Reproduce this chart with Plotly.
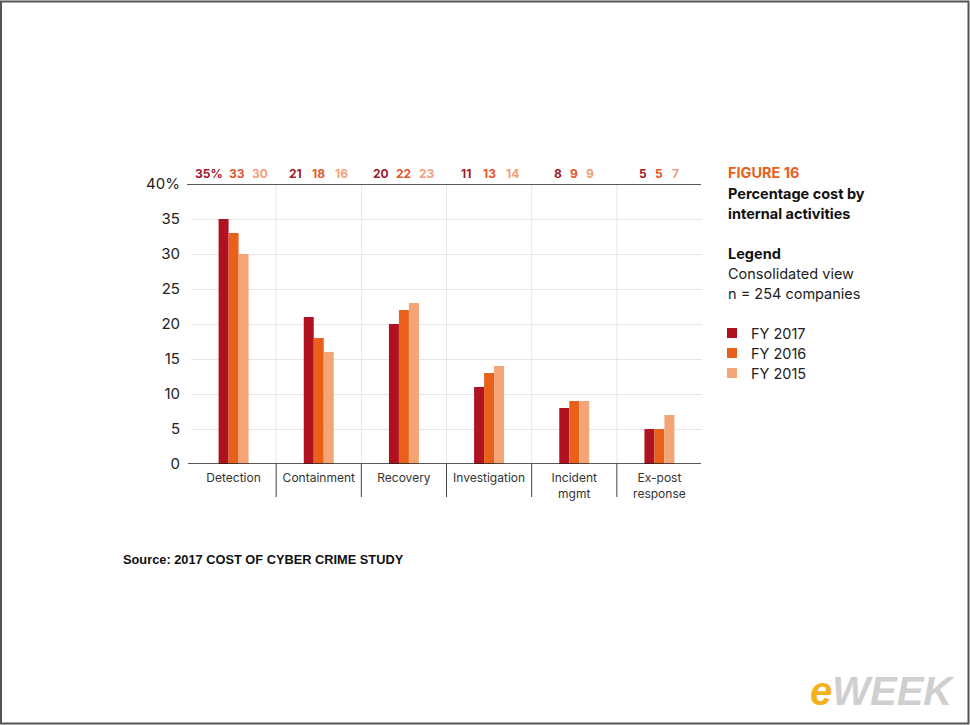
import plotly.graph_objects as go

# ---------------- data ----------------
categories = ["Detection", "Containment", "Recovery", "Investigation", "Incident<br>mgmt", "Ex-post<br>response"]
series_names = ["FY 2017", "FY 2016", "FY 2015"]
fy2017 = [35, 21, 20, 11, 8, 5]
fy2016 = [33, 18, 22, 13, 9, 5]
fy2015 = [30, 16, 23, 14, 9, 7]
y_tickvals = [0, 5, 10, 15, 20, 25, 30, 35, 40]
y_ticktext = ["0", "5", "10", "15", "20", "25", "30", "35", "40%"]

series_values = [fy2017, fy2016, fy2015]

# ---------------- style ----------------
bar_colors = ["#B0121F", "#E8601C", "#F4A576"]
label_colors = ["#A01A2C", "#E2572B", "#F2A07A"]
W, H = 970, 725
L, R, T, B = 191, 268, 184, 261
plot_w = W - L - R
plot_h = H - T - B
FONT = "Inter, Liberation Sans, Arial, sans-serif"

fig = go.Figure()
for name, vals, col in zip(series_names, series_values, bar_colors):
    fig.add_trace(go.Bar(x=categories, y=vals, name=name, marker=dict(color=col, line=dict(width=0)),
                         showlegend=False, hoverinfo="x+y"))

def px_x(px):
    return (px - L) / plot_w

def px_y(py):
    return (H - B - py) / plot_h

shapes = []
# light vertical gridlines and dark dividers below the axis
for i in range(1, len(categories)):
    shapes.append(dict(type="line", xref="x", yref="y", x0=i - 0.5, x1=i - 0.5, y0=0, y1=40,
                       line=dict(color="#E6E6E6", width=1), layer="below"))
    shapes.append(dict(type="line", xref="x", yref="paper", x0=i - 0.5, x1=i - 0.5, y0=0, y1=px_y(497),
                       line=dict(color="#444444", width=1)))
# top (40%) line and baseline
shapes.append(dict(type="line", xref="paper", yref="y", x0=px_x(187), x1=px_x(701), y0=40, y1=40,
                   line=dict(color="#222222", width=1.3)))
shapes.append(dict(type="line", xref="paper", yref="y", x0=px_x(188), x1=px_x(701), y0=0, y1=0,
                   line=dict(color="#222222", width=1.3)))
# image border
shapes.append(dict(type="rect", xref="paper", yref="paper", x0=px_x(1), x1=px_x(968.5), y0=px_y(1.5), y1=px_y(723.5),
                   line=dict(color="#555555", width=2)))

annotations = []
# value labels above the chart
def text_w(s):
    return sum(9 if c == "%" else 7 for c in s)

gap = 9
for ci, cat in enumerate(categories):
    texts = []
    for si, vals in enumerate(series_values):
        t = f"{vals[ci]}%" if ci == 0 and si == 0 else f"{vals[ci]}"
        texts.append(t)
    wm = text_w(texts[1])
    offsets = [-(wm / 2 + gap + text_w(texts[0]) / 2), 0, (wm / 2 + gap + text_w(texts[2]) / 2)]
    if ci == 0:
        offsets = [o + 3 for o in offsets]
    for si in range(3):
        annotations.append(dict(x=cat, y=px_y(174), xref="x", yref="paper", text=f"<b>{texts[si]}</b>",
                                showarrow=False, xshift=offsets[si], xanchor="center", yanchor="middle",
                                font=dict(family=FONT, size=12, color=label_colors[si])))

# right panel texts
def add_text(x, y, text, size, color="#111111", bold=False, family=FONT):
    annotations.append(dict(x=px_x(x), y=px_y(y), xref="paper", yref="paper",
                            text=f"<b>{text}</b>" if bold else text, showarrow=False,
                            xanchor="left", yanchor="middle", font=dict(family=family, size=size, color=color)))

add_text(726, 173, "FIGURE 16", 14.5, color="#E8601C", bold=True)
add_text(726, 193, "Percentage cost by", 14.5, bold=True)
add_text(726, 213, "internal activities", 14.5, bold=True)
add_text(726, 253, "Legend", 14.5, bold=True)
add_text(726, 273, "Consolidated view", 14.5, color="#222222")
add_text(726, 293, "n = 254 companies", 14.5, color="#222222")
for i, (name, col) in enumerate(zip(series_names, bar_colors)):
    yc = 333 + 20 * i
    shapes.append(dict(type="rect", xref="paper", yref="paper", x0=px_x(727), x1=px_x(737),
                       y0=px_y(yc + 5), y1=px_y(yc - 5), fillcolor=col, line=dict(width=0)))
    add_text(749, yc, name, 14.5, color="#222222")

# source
add_text(121, 559, "Source: 2017 COST OF CYBER CRIME STUDY", 12.8, color="#111111", bold=True,
         family="Liberation Sans, Arial, sans-serif")

# eWEEK logo (text)
logo_font = "Liberation Sans, Arial, sans-serif"
annotations.append(dict(x=px_x(957), y=px_y(691), xref="paper", yref="paper", showarrow=False,
                        xanchor="right", yanchor="middle",
                        text="<b><i><span style='color:#F2B21E'>e</span>WEEK</i></b>",
                        font=dict(family=logo_font, size=40, color="#CFCFCF")))

fig.update_layout(
    width=W, height=H,
    margin=dict(l=L, r=R, t=T, b=B),
    paper_bgcolor="white", plot_bgcolor="white",
    barmode="group", bargap=0.648, bargroupgap=0,
    shapes=shapes, annotations=annotations,
    font=dict(family=FONT, color="#222222"),
    xaxis=dict(type="category", showgrid=False, zeroline=False, showline=False, ticks="",
               tickfont=dict(family=FONT, size=12, color="#333333"), ticklabelstandoff=5,
               range=[-0.5, len(categories) - 0.5]),
    yaxis=dict(range=[0, 40], tickvals=y_tickvals, ticktext=y_ticktext, showgrid=True,
               gridcolor="#E6E6E6", gridwidth=1, zeroline=False, showline=False, ticks="",
               tickfont=dict(family=FONT, size=15, color="#222222"), ticklabelstandoff=10),
)

fig.write_html("out.html")
